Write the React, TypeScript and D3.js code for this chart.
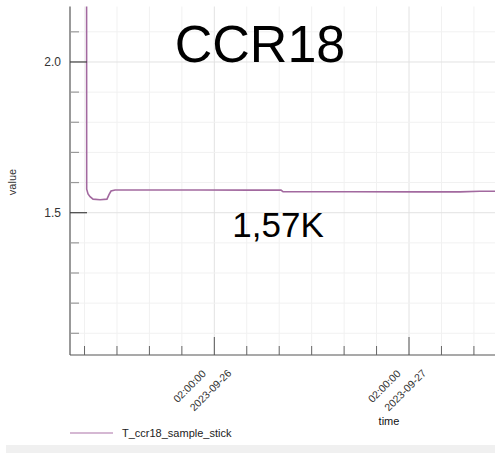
import * as d3 from "d3";

// Series readings (time in UTC, value)
const times = [
  "2023-09-25T10:15:00Z",
  "2023-09-25T10:16:00Z",
  "2023-09-25T10:26:00Z",
  "2023-09-25T10:41:00Z",
  "2023-09-25T11:03:00Z",
  "2023-09-25T11:55:00Z",
  "2023-09-25T12:46:00Z",
  "2023-09-25T13:01:00Z",
  "2023-09-25T13:16:00Z",
  "2023-09-25T13:46:00Z",
  "2023-09-25T18:04:00Z",
  "2023-09-26T00:14:00Z",
  "2023-09-26T06:24:00Z",
  "2023-09-26T10:13:00Z",
  "2023-09-26T10:28:00Z",
  "2023-09-26T18:43:00Z",
  "2023-09-27T03:21:00Z",
  "2023-09-27T08:17:00Z",
  "2023-09-27T10:45:00Z",
  "2023-09-27T12:40:00Z",
];
const values = [
  2.4, 1.578, 1.562, 1.553, 1.545, 1.543, 1.545, 1.56, 1.572, 1.5753, 1.5755,
  1.5752, 1.575, 1.5748, 1.5698, 1.5695, 1.569, 1.5692, 1.571, 1.5712,
];

const seriesName = "T_ccr18_sample_stick";
const title = "CCR18";
const currentValue = "1,57K";
const yMajorTicks = [1.5, 2.0];
const yMinorTicks = [1.1, 1.2, 1.3, 1.4, 1.6, 1.7, 1.8, 1.9, 2.1];
const xDomain = ["2023-09-25T08:12:36Z", "2023-09-27T12:36:00Z"];
const yDomain = [1.028, 2.184];

const W = 495;
const H = 453;
const left = 70;
const right = 495;
const top = 6.5;
const bottom = 355;
const font = "'Liberation Sans', Arial, sans-serif";

export default function App() {
  const data = times.map((t, i) => ({ date: new Date(t), value: values[i] }));

  const x = d3
    .scaleUtc()
    .domain(xDomain.map((d) => new Date(d)))
    .range([left, right]);
  const y = d3.scaleLinear().domain(yDomain).range([bottom, top]);

  const xTicks = d3.utcHour.range(
    new Date("2023-09-25T10:00:00Z"),
    x.domain()[1],
    4
  );
  const isMajor = (d: Date) => d.getUTCHours() === 2;
  const fmtTime = d3.utcFormat("%H:%M:%S");
  const fmtDate = d3.utcFormat("%Y-%m-%d");

  const line = d3
    .line<{ date: Date; value: number }>()
    .x((d) => x(d.date))
    .y((d) => y(d.value));

  return (
    <svg
      width={W}
      height={H}
      style={{ position: "absolute", left: 0, top: 0, background: "#fff" }}
      fontFamily={font}
    >
      <defs>
        <clipPath id="plot">
          <rect x={left} y={top} width={right - left} height={bottom - top} />
        </clipPath>
      </defs>

      {/* grid */}
      {xTicks.map((t, i) => (
        <line
          key={"gx" + i}
          x1={x(t)}
          x2={x(t)}
          y1={top}
          y2={bottom}
          stroke={isMajor(t) ? "#e2e2e2" : "#f1f1f1"}
        />
      ))}
      {yMinorTicks.map((v, i) => (
        <line
          key={"gy" + i}
          x1={left}
          x2={right}
          y1={y(v)}
          y2={y(v)}
          stroke="#f1f1f1"
        />
      ))}
      {yMajorTicks.map((v, i) => (
        <line
          key={"gY" + i}
          x1={left}
          x2={right}
          y1={y(v)}
          y2={y(v)}
          stroke="#e2e2e2"
        />
      ))}

      {/* titles inside plot */}
      <text x={260} y={62} textAnchor="middle" fontSize={52} fill="#000">
        {title}
      </text>
      <text x={278} y={237} textAnchor="middle" fontSize={35} fill="#000">
        {currentValue}
      </text>

      {/* series */}
      <path
        d={line(data) ?? ""}
        fill="none"
        stroke="#a2699f"
        strokeWidth={1.6}
        clipPath="url(#plot)"
      />

      {/* y axis */}
      <line x1={left} x2={left} y1={top} y2={bottom} stroke="#555" strokeWidth={1.2} />
      {yMinorTicks.map((v, i) => (
        <line
          key={"ty" + i}
          x1={left}
          x2={left + 9}
          y1={y(v)}
          y2={y(v)}
          stroke="#999"
          strokeWidth={1.2}
        />
      ))}
      {yMajorTicks.map((v, i) => (
        <g key={"tY" + i}>
          <line
            x1={left}
            x2={left + 17}
            y1={y(v)}
            y2={y(v)}
            stroke="#444"
            strokeWidth={1.2}
          />
          <text
            x={left - 9}
            y={y(v)}
            textAnchor="end"
            dominantBaseline="central"
            fontSize={12}
            fill="#333"
          >
            {d3.format(".1f")(v)}
          </text>
        </g>
      ))}
      <text
        transform={`translate(12,182) rotate(-90)`}
        textAnchor="middle"
        dominantBaseline="central"
        fontSize={11}
        fill="#333"
      >
        value
      </text>

      {/* x axis */}
      <line x1={left} x2={right} y1={bottom} y2={bottom} stroke="#555" strokeWidth={1.2} />
      {xTicks.map((t, i) => (
        <line
          key={"tx" + i}
          x1={x(t)}
          x2={x(t)}
          y1={bottom}
          y2={bottom - (isMajor(t) ? 18 : 9)}
          stroke={isMajor(t) ? "#555" : "#666"}
          strokeWidth={1}
        />
      ))}
      {xTicks.filter(isMajor).map((t, i) => (
        <g key={"lx" + i} fontSize={10.5} fill="#333">
          <text
            transform={`translate(${x(t) - 25},386) rotate(-45)`}
            textAnchor="middle"
            dominantBaseline="central"
          >
            {fmtTime(t)}
          </text>
          <text
            transform={`translate(${x(t) - 4},390) rotate(-45)`}
            textAnchor="middle"
            dominantBaseline="central"
          >
            {fmtDate(t)}
          </text>
        </g>
      ))}
      <text x={389} y={421} textAnchor="middle" dominantBaseline="central" fontSize={11} fill="#111">
        time
      </text>

      {/* legend */}
      <line x1={70} x2={113} y1={433} y2={433} stroke="#c7a0c5" strokeWidth={1.5} />
      <text x={122} y={433} dominantBaseline="central" fontSize={11} fill="#222">
        {seriesName}
      </text>
      <rect x={6} y={445} width={W - 6} height={8} fill="#f0f0f0" />
    </svg>
  );
}
